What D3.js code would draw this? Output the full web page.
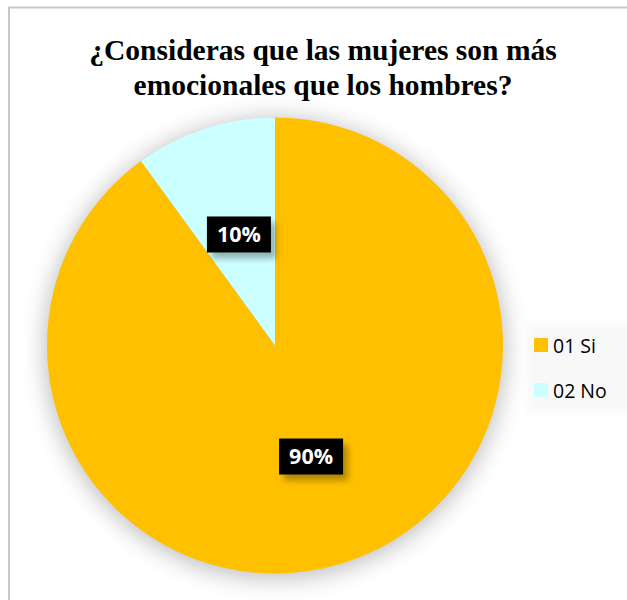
<!DOCTYPE html>
<html><head><meta charset="utf-8">
<script src="https://cdn.jsdelivr.net/npm/d3@7"></script>
<style>html,body{margin:0;padding:0;background:#fff;overflow:hidden}</style>
</head><body>
<svg id="chart" width="627" height="600"></svg>
<script>
const titleLines = ["¿Consideras que las mujeres son más", "emocionales que los hombres?"];
const categories = ["01 Si", "02 No"];
const values = [90, 10];
const labels = ["90%", "10%"];
const colors = ["#FFC000", "#CCFFFF"];

const svg = d3.select("#chart");
const cx = 275, cy = 345.5, R = 228;

const defs = svg.append("defs");
const glow = defs.append("filter").attr("id","glow").attr("x","-30%").attr("y","-30%").attr("width","160%").attr("height","160%");
glow.append("feGaussianBlur").attr("in","SourceAlpha").attr("stdDeviation",13).attr("result","b");
glow.append("feOffset").attr("in","b").attr("dx",0).attr("dy",3).attr("result","o");
glow.append("feComponentTransfer").attr("in","o").append("feFuncA").attr("type","linear").attr("slope",0.3);

const lblSh = defs.append("filter").attr("id","lsh").attr("x","-30%").attr("y","-30%").attr("width","160%").attr("height","160%");
lblSh.append("feGaussianBlur").attr("in","SourceAlpha").attr("stdDeviation",3).attr("result","b");
lblSh.append("feOffset").attr("in","b").attr("dx",5).attr("dy",6).attr("result","o");
lblSh.append("feComponentTransfer").attr("in","o").attr("result","s").append("feFuncA").attr("type","linear").attr("slope",0.3);
const m = lblSh.append("feMerge");
m.append("feMergeNode").attr("in","s");
m.append("feMergeNode").attr("in","SourceGraphic");

const legSh = defs.append("filter").attr("id","legsh").attr("x","-20%").attr("y","-20%").attr("width","140%").attr("height","140%");
legSh.append("feGaussianBlur").attr("stdDeviation",3);

// chart border
svg.append("rect").attr("x",9).attr("y",7.5).attr("width",630).attr("height",610)
  .attr("fill","#fff").attr("stroke","#c8c8c8").attr("stroke-width",2);

// title
svg.append("g").selectAll("text").data(titleLines).join("text")
  .attr("x", 323).attr("y", (d,i)=>60 + i*35)
  .attr("text-anchor","middle")
  .attr("font-family","'Liberation Serif','Times New Roman',serif")
  .attr("font-weight","bold").attr("font-size",29.5).attr("fill","#000")
  .text(d=>d);

// pie
const pie = d3.pie().sort(null).value(d=>d);
const arcs = pie(values);
const arc = d3.arc().innerRadius(0).outerRadius(R);
const g = svg.append("g").attr("transform",`translate(${cx},${cy})`);
g.append("circle").attr("r",R).attr("fill","#000").attr("filter","url(#glow)");
g.selectAll("path.slice").data(arcs).join("path").attr("class","slice")
  .attr("d",arc).attr("fill",(d,i)=>colors[i]);

// data labels
const labelArc = d3.arc().innerRadius(R*0.512).outerRadius(R*0.512);
const lg = g.selectAll("g.lbl").data(arcs).join("g").attr("class","lbl")
  .attr("transform",d=>{const c=labelArc.centroid(d);return `translate(${c[0]},${c[1]})`;});
lg.append("rect").attr("x",-32).attr("y",-18).attr("width",64).attr("height",36)
  .attr("fill","#000").attr("filter","url(#lsh)");
lg.append("text").attr("text-anchor","middle").attr("dy","0.36em")
  .attr("font-family","'Open Sans',sans-serif").attr("font-weight","bold").attr("font-size",21.5)
  .attr("fill","#fff").text((d,i)=>labels[i]);

// legend
svg.append("rect").attr("x",527).attr("y",324).attr("width",110).attr("height",88)
  .attr("fill","#f6f6f6").attr("opacity",0.7).attr("filter","url(#legsh)");
const leg = svg.append("g").selectAll("g").data(categories).join("g")
  .attr("transform",(d,i)=>`translate(534,${338 + i*45})`);
leg.append("rect").attr("width",14).attr("height",14).attr("fill",(d,i)=>colors[i]);
leg.append("text").attr("x",19).attr("y",14.5)
  .attr("font-family","'Open Sans',sans-serif").attr("font-size",19.5).attr("fill","#000")
  .text(d=>d);
</script>
</body></html>
